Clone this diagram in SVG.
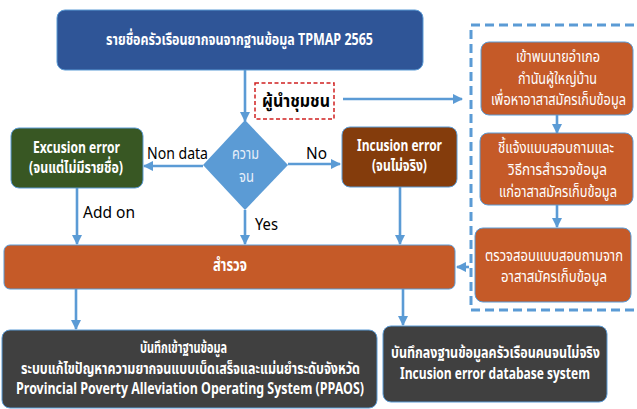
<svg xmlns="http://www.w3.org/2000/svg" width="637" height="409" viewBox="0 0 637 409">
<defs>
<marker id="ah" viewBox="0 0 10 10" refX="9" refY="5" markerWidth="4" markerHeight="4" orient="auto" markerUnits="strokeWidth">
<path d="M0,0 L10,5 L0,10 z" fill="#5B9BD5"/>
</marker>
<style>
text{font-family:"Noto Sans Thai","Lato","Noto Sans",sans-serif;text-anchor:middle;dominant-baseline:central}
.w{fill:#fff}
.b{font-weight:bold}
.lbl{fill:#000;font-size:17px}
.box{stroke:#5B9BD5;stroke-width:1}
.c{stroke:#5B9BD5;stroke-width:2.6;fill:none;marker-end:url(#ah)}
.og{fill:#C55A28}
.dk{fill:#404040}
</style>
</defs>
<rect width="637" height="409" fill="#fff"/>

<g id="connectors">
<line class="c" x1="245" y1="70" x2="245" y2="121"/>
<line class="c" x1="343" y1="99" x2="462" y2="99"/>
<line class="c" x1="203" y1="166" x2="144" y2="166"/>
<line class="c" x1="288" y1="164" x2="340" y2="164"/>
<line class="c" x1="77" y1="188" x2="77" y2="244"/>
<line class="c" x1="245" y1="210" x2="245" y2="244"/>
<line class="c" x1="400" y1="187" x2="400" y2="244"/>
<line class="c" x1="469" y1="267" x2="457" y2="267"/>
<line class="c" x1="557" y1="115" x2="557" y2="133"/>
<line class="c" x1="557" y1="205" x2="557" y2="227"/>
<line class="c" x1="76" y1="289" x2="76" y2="329"/>
<line class="c" x1="403" y1="289" x2="403" y2="325"/>
<text class="lbl" x="177.5" y="154" textLength="61" lengthAdjust="spacingAndGlyphs">Non data</text>
<text class="lbl" x="316.5" y="154" textLength="21" lengthAdjust="spacingAndGlyphs">No</text>
<text class="lbl" x="109" y="213" textLength="52" lengthAdjust="spacingAndGlyphs">Add on</text>
<text class="lbl" x="266.5" y="225" textLength="23" lengthAdjust="spacingAndGlyphs">Yes</text>
</g>

<g id="tpmap">
<rect class="box" x="57" y="10" width="366" height="60" rx="8" fill="#2F5597"/>
<text class="w b" x="239.5" y="40" font-size="16" textLength="267" lengthAdjust="spacingAndGlyphs">รายชื่อครัวเรือนยากจนจากฐานข้อมูล TPMAP 2565</text>
</g>

<g id="leader">
<rect x="255" y="83" width="79" height="36" fill="#fff" stroke="#D02020" stroke-width="1.5" stroke-dasharray="4 2.5"/>
<text class="b" x="296" y="101" font-size="18" fill="#000" textLength="68" lengthAdjust="spacingAndGlyphs">ผู้นำชุมชน</text>
</g>

<g id="decision">
<polygon points="245,120 288,165 245,210 203,165" fill="#5B9BD5"/>
<text x="245.5" y="154" font-size="16" fill="#E8F0FA" textLength="27" lengthAdjust="spacingAndGlyphs">ความ</text>
<text x="246.5" y="177" font-size="16" fill="#E8F0FA" textLength="15" lengthAdjust="spacingAndGlyphs">จน</text>
</g>

<g id="excusion">
<rect class="box" x="11" y="128" width="132" height="60" rx="8" fill="#385723"/>
<text class="w b" x="76.5" y="148" font-size="16" textLength="87" lengthAdjust="spacingAndGlyphs">Excusion error</text>
<text class="w b" x="76" y="168" font-size="16" textLength="94" lengthAdjust="spacingAndGlyphs">(จนแต่ไม่มีรายชื่อ)</text>
</g>

<g id="incusion">
<rect class="box" x="342" y="127" width="115" height="60" rx="8" fill="#843C0C"/>
<text class="w b" x="399.5" y="146" font-size="16" textLength="85" lengthAdjust="spacingAndGlyphs">Incusion error</text>
<text class="w b" x="399.5" y="166" font-size="16" textLength="55" lengthAdjust="spacingAndGlyphs">(จนไม่จริง)</text>
</g>

<g id="survey">
<rect class="box og" x="4" y="245" width="451" height="44" rx="6"/>
<text class="w b" x="230" y="266" font-size="17" textLength="34" lengthAdjust="spacingAndGlyphs">สำรวจ</text>
</g>

<g id="volunteer-group">
<rect x="471" y="25" width="170" height="285" fill="none" stroke="#5B9BD5" stroke-width="3" stroke-dasharray="9 5"/>
</g>

<g id="step1">
<rect class="box og" x="481" y="42" width="152" height="73" rx="8"/>
<text class="w" x="558" y="57" font-size="16" textLength="84" lengthAdjust="spacingAndGlyphs">เข้าพบนายอำเภอ</text>
<text class="w" x="557.5" y="79" font-size="16" textLength="79" lengthAdjust="spacingAndGlyphs">กำนันผู้ใหญ่บ้าน</text>
<text class="w" x="558.5" y="100" font-size="16" textLength="135" lengthAdjust="spacingAndGlyphs">เพื่อหาอาสาสมัครเก็บข้อมูล</text>
</g>

<g id="step2">
<rect class="box og" x="480" y="133" width="153" height="72" rx="8"/>
<text class="w" x="556" y="148" font-size="16" textLength="116" lengthAdjust="spacingAndGlyphs">ชี้แจ้งแบบสอบถามและ</text>
<text class="w" x="557.5" y="170" font-size="16" textLength="99" lengthAdjust="spacingAndGlyphs">วิธีการสำรวจข้อมูล</text>
<text class="w" x="558" y="192" font-size="16" textLength="118" lengthAdjust="spacingAndGlyphs">แก่อาสาสมัครเก็บข้อมูล</text>
</g>

<g id="step3">
<rect class="box og" x="475" y="228" width="156" height="74" rx="8"/>
<text class="w" x="554" y="256" font-size="16" textLength="138" lengthAdjust="spacingAndGlyphs">ตรวจสอบแบบสอบถามจาก</text>
<text class="w" x="554" y="277" font-size="16" textLength="106" lengthAdjust="spacingAndGlyphs">อาสาสมัครเก็บข้อมูล</text>
</g>

<g id="ppaos">
<rect class="box dk" x="2" y="330" width="375" height="78" rx="8"/>
<text class="w b" x="183.5" y="348" font-size="16" textLength="87" lengthAdjust="spacingAndGlyphs">บันทึกเข้าฐานข้อมูล</text>
<text class="w b" x="190.5" y="369" font-size="16" textLength="339" lengthAdjust="spacingAndGlyphs">ระบบแก้ไขปัญหาความยากจนแบบเบ็ดเสร็จและแม่นยำระดับจังหวัด</text>
<text class="w b" x="190" y="389" font-size="16" textLength="348" lengthAdjust="spacingAndGlyphs">Provincial Poverty Alleviation Operating System (PPAOS)</text>
</g>

<g id="incusion-db">
<rect class="box dk" x="383" y="326" width="224" height="76" rx="8"/>
<text class="w b" x="495.5" y="353" font-size="16" textLength="209" lengthAdjust="spacingAndGlyphs">บันทึกลงฐานข้อมูลครัวเรือนคนจนไม่จริง</text>
<text class="w b" x="495" y="374" font-size="16" textLength="190" lengthAdjust="spacingAndGlyphs">Incusion error database system</text>
</g>
</svg>
